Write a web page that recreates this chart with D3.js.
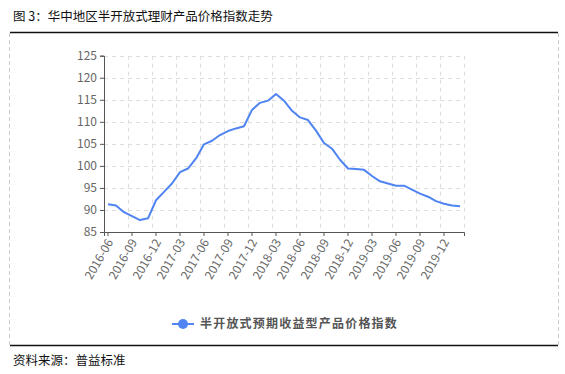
<!DOCTYPE html>
<html>
<head>
<meta charset="utf-8">
<script src="https://cdn.jsdelivr.net/npm/d3@7"></script>
<style>
body { margin: 0; background: #fff; }
text { font-family: "Noto Sans CJK SC", "Noto Sans", sans-serif; }
</style>
</head>
<body>
<script>
// months 2016-06 .. 2020-02
var months = [];
for (var y = 2016, m = 6; y < 2020 || m <= 2; m++) {
    if (m > 12) { m = 1; y++; }
    months.push(y + "-" + (m < 10 ? "0" + m : m));
}
var indexValues = [91.3, 91.0, 89.5, 88.6, 87.7, 88.1, 92.2, 94.1, 96.0, 98.6,
    99.4, 101.7, 104.9, 105.7, 107.0, 107.9, 108.5, 109.0, 112.7, 114.3,
    114.8, 116.3, 114.8, 112.5, 111.0, 110.4, 108.0, 105.2, 103.9, 101.4,
    99.4, 99.3, 99.1, 97.7, 96.5, 96.0, 95.5, 95.5, 94.6, 93.7,
    93.0, 92.0, 91.4, 91.0, 90.85];
var yTicks = [85, 90, 95, 100, 105, 110, 115, 120, 125];
var seriesName = "半开放式预期收益型产品价格指数";
var title = "图 3：华中地区半开放式理财产品价格指数走势";
var source = "资料来源：普益标准";

var W = 565, H = 374;
var plot = {left: 104, right: 464, top: 55.7, bottom: 232};

var svg = d3.select("body").append("svg")
    .attr("width", W).attr("height", H);

// title & frame
svg.append("text").attr("x", 13).attr("y", 21)
    .attr("font-size", 12.5).attr("fill", "#111").text(title);
svg.append("line").attr("x1", 10).attr("x2", 558).attr("y1", 32.5).attr("y2", 32.5)
    .attr("stroke", "#111").attr("stroke-width", 1.5);
svg.append("line").attr("x1", 10).attr("x2", 558).attr("y1", 345.5).attr("y2", 345.5)
    .attr("stroke", "#111").attr("stroke-width", 1.5);
[9.5, 558.5].forEach(function(x) {
    svg.append("line").attr("x1", x).attr("x2", x).attr("y1", 33).attr("y2", 345)
        .attr("stroke", "#ccc").attr("stroke-dasharray", "4,3");
});
svg.append("text").attr("x", 13).attr("y", 365)
    .attr("font-size", 12.5).attr("fill", "#111").text(source);

// scales
var x = d3.scaleBand().domain(months).range([plot.left, plot.right]).padding(0);
var yScale = d3.scaleLinear().domain([85, 125]).range([plot.bottom, plot.top]);
var cx = function(d) { return x(d) + x.bandwidth() / 2; };

// grid
var grid = svg.append("g").attr("stroke", "#ddd").attr("stroke-dasharray", "4,4");
yTicks.slice(1).forEach(function(t) {
    grid.append("line").attr("x1", plot.left).attr("x2", plot.right)
        .attr("y1", Math.round(yScale(t)) + 0.5).attr("y2", Math.round(yScale(t)) + 0.5);
});
for (var k = 3; k <= months.length; k += 3) {
    var gx = plot.left + k * x.bandwidth();
    grid.append("line").attr("x1", Math.round(gx) + 0.5).attr("x2", Math.round(gx) + 0.5)
        .attr("y1", plot.top).attr("y2", plot.bottom);
}

// axes
var yAxis = d3.axisLeft(yScale).tickValues(yTicks).tickSize(4).tickPadding(3);
var gy = svg.append("g").attr("transform", "translate(" + plot.left + ",0)").call(yAxis);
gy.select(".domain").attr("stroke", "#555");
gy.selectAll(".tick line").attr("stroke", "#555");
gy.selectAll("text").attr("font-family", "'Open Sans', 'Noto Sans', sans-serif")
    .attr("font-size", 12).attr("fill", "#666");

var xAxis = d3.axisBottom(x)
    .tickValues(months.filter(function(d, i) { return i % 3 == 0; }))
    .tickSize(4).tickPadding(3);
var gxAxis = svg.append("g").attr("transform", "translate(0," + plot.bottom + ")").call(xAxis);
gxAxis.select(".domain").attr("stroke", "#555");
gxAxis.selectAll(".tick line").attr("stroke", "#555");
gxAxis.selectAll("text")
    .attr("font-family", "'Open Sans', 'Noto Sans', sans-serif")
    .attr("font-size", 12).attr("fill", "#666")
    .attr("text-anchor", "end")
    .attr("dy", "0.35em")
    .attr("transform", "translate(2,8) rotate(-60)")
    .attr("y", 0).attr("x", 0);

// line
var line = d3.line()
    .x(function(d, i) { return cx(months[i]); })
    .y(function(d) { return yScale(d); });
svg.append("path").datum(indexValues)
    .attr("d", line)
    .attr("fill", "none")
    .attr("stroke", "#4f84f2")
    .attr("stroke-width", 2)
    .attr("stroke-linejoin", "round");

// legend
var lg = svg.append("g").attr("transform", "translate(172,324)");
lg.append("line").attr("x1", 0).attr("x2", 22).attr("y1", 0).attr("y2", 0)
    .attr("stroke", "#4f84f2").attr("stroke-width", 2);
lg.append("circle").attr("cx", 11).attr("cy", 0).attr("r", 5).attr("fill", "#4f84f2");
lg.append("text").attr("x", 28).attr("y", 0).attr("dy", "0.35em")
    .attr("font-size", 12).attr("font-weight", "bold").attr("letter-spacing", 1.2)
    .attr("fill", "#555").text(seriesName);
</script>
</body>
</html>
